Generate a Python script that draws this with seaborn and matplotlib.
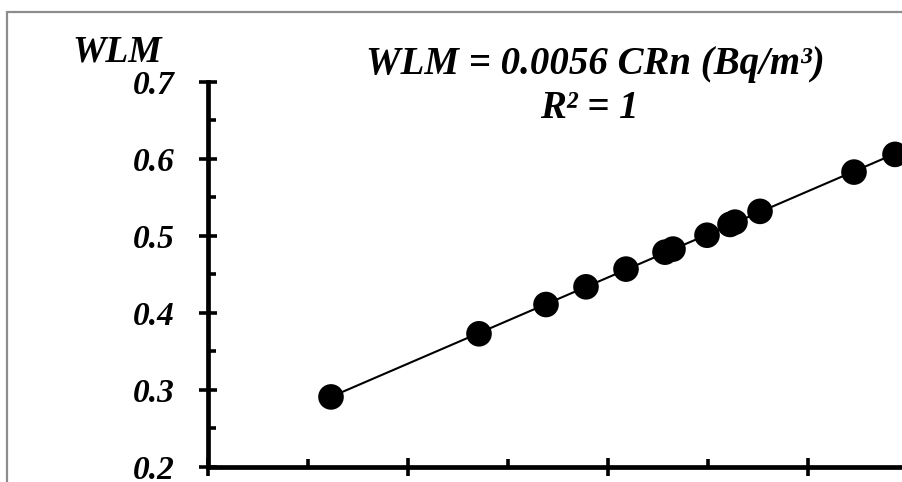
import numpy as np
import pandas as pd
import matplotlib
matplotlib.use("Agg")
import matplotlib.pyplot as plt
from matplotlib.patches import Rectangle
from matplotlib.ticker import MultipleLocator
import seaborn as sns

# Data
crn = [52.3, 67.1, 73.8, 77.8, 81.8, 85.7, 86.5, 89.9, 92.2, 92.7, 95.2, 104.6, 108.7]
wlm = [0.291, 0.373, 0.411, 0.434, 0.457, 0.479, 0.483, 0.501, 0.515, 0.518, 0.532, 0.583, 0.606]
y_ticks = [0.2, 0.3, 0.4, 0.5, 0.6, 0.7]
y_tick_labels = ["0.2", "0.3", "0.4", "0.5", "0.6", "0.7"]
eq_text = "WLM = 0.0056 CRn (Bq/m³)"
r2_text = "R² = 1"
y_label = "WLM"

df = pd.DataFrame({"CRn": crn, "WLM": wlm})

sns.set_theme(style="white")
plt.rcParams["font.family"] = ["Liberation Serif", "DejaVu Serif"]
plt.rcParams["font.weight"] = "bold"
plt.rcParams["font.style"] = "italic"
plt.rcParams["text.color"] = "black"
plt.rcParams["axes.labelcolor"] = "black"
plt.rcParams["xtick.color"] = "black"
plt.rcParams["ytick.color"] = "black"

W, H = 903, 482
fig = plt.figure(figsize=(W / 100, H / 100), dpi=100)
ax = fig.add_axes([208 / W, 1 - 467 / H, 800 / W, 385 / H])

sns.regplot(data=df, x="CRn", y="WLM", ax=ax, ci=None, color="black",
            scatter_kws=dict(s=340, color="black", alpha=1, edgecolors="none", zorder=3),
            line_kws=dict(color="black", lw=1.5, zorder=2))

ax.set_xlim(40, 120)
ax.set_ylim(0.2, 0.7)
ax.xaxis.set_major_locator(MultipleLocator(20))
ax.xaxis.set_minor_locator(MultipleLocator(10))
ax.set_yticks(y_ticks)
ax.set_yticklabels(y_tick_labels)
ax.yaxis.set_minor_locator(MultipleLocator(0.05))

for s in ["top", "right"]:
    ax.spines[s].set_visible(False)
for s in ["left", "bottom"]:
    ax.spines[s].set_linewidth(3.4)
    ax.spines[s].set_color("black")

ax.tick_params(axis="both", which="both", left=True, bottom=True, top=False, right=False)
ax.tick_params(axis="both", which="major", direction="inout", length=13.5, width=2.6, color="black")
ax.tick_params(axis="both", which="minor", direction="in", length=5.5, width=2.6, color="black")
ax.tick_params(axis="x", which="both", labelbottom=False)
ax.tick_params(axis="y", which="major", labelsize=24, pad=17, labelcolor="black")
for lab in ax.get_yticklabels():
    lab.set_fontweight("bold")
    lab.set_fontstyle("italic")

ax.set_xlabel("")
ax.set_ylabel(y_label, rotation=0, fontsize=27, fontweight="bold", fontstyle="italic",
              ha="center", va="baseline", color="black")
ax.yaxis.set_label_coords((117.5 - 208) / 800, (467 - 62) / 385)

fig.text(595 / W, 1 - 74 / H, eq_text, ha="center", va="baseline",
         fontsize=28, fontweight="bold", fontstyle="italic", color="black")
fig.text(589 / W, 1 - 118 / H, r2_text, ha="center", va="baseline",
         fontsize=28, fontweight="bold", fontstyle="italic", color="black")

top = 1 - 12 / H
border = Rectangle((7 / W, -0.2), 1.3, top + 0.2, transform=fig.transFigure,
                   fill=False, edgecolor="#8c8c8c", lw=1.6, clip_on=False)
fig.patches.append(border)

fig.savefig("out.png", dpi=100)
